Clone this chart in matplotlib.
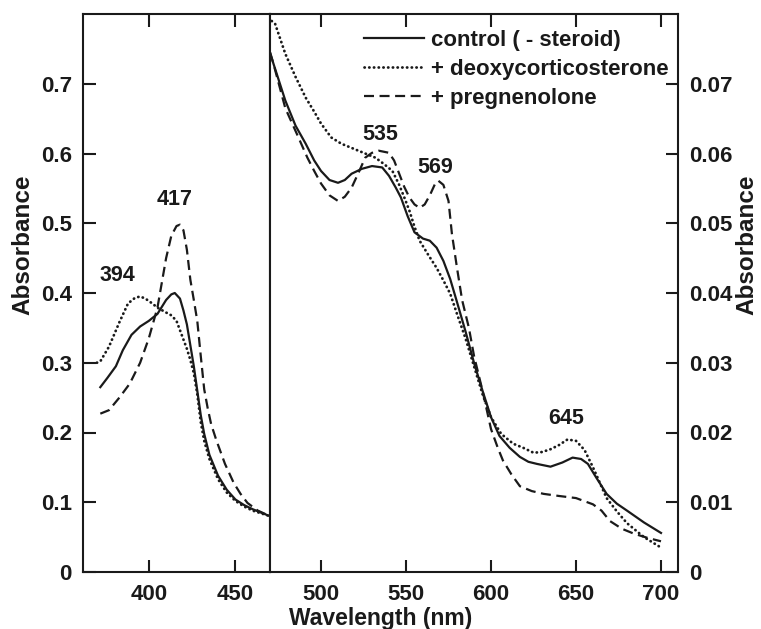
import matplotlib
matplotlib.use("Agg")
import matplotlib.pyplot as plt
from matplotlib.ticker import FuncFormatter

plt.rcParams['font.family'] = ['Liberation Sans', 'DejaVu Sans']
plt.rcParams['font.weight'] = 'bold'

# Soret region (left axis, 0 - 0.8)
wl_ctrl_L = [372, 376, 381, 385, 390, 395, 400, 405, 410, 413, 415, 418, 420, 422, 424, 426,
             428, 430, 432, 435, 440, 445, 450, 455, 460, 465, 470]
ctrl_L = [0.265, 0.278, 0.295, 0.318, 0.340, 0.352, 0.360, 0.370, 0.390, 0.398, 0.400, 0.392,
          0.375, 0.355, 0.325, 0.295, 0.260, 0.225, 0.198, 0.168, 0.138, 0.118, 0.104, 0.096,
          0.090, 0.085, 0.080]

wl_deoxy_L = [370, 372, 377, 383, 388, 392, 395, 398, 402, 405, 410, 413, 416, 419, 422, 424,
              426, 428, 430, 432, 435, 440, 445, 450, 455, 460, 465, 470]
deoxy_L = [0.300, 0.302, 0.323, 0.358, 0.385, 0.393, 0.395, 0.392, 0.385, 0.379, 0.372, 0.368,
           0.360, 0.340, 0.320, 0.304, 0.285, 0.255, 0.215, 0.188, 0.162, 0.133, 0.114, 0.102,
           0.094, 0.088, 0.084, 0.080]

wl_preg_L = [372, 377, 383, 389, 395, 400, 405, 410, 413, 416, 418, 420, 422, 424, 426, 428,
             430, 432, 434, 436, 439, 444, 449, 453, 457, 463, 470]
preg_L = [0.227, 0.232, 0.250, 0.270, 0.300, 0.335, 0.379, 0.450, 0.482, 0.496, 0.498, 0.490,
          0.462, 0.419, 0.390, 0.360, 0.310, 0.262, 0.235, 0.212, 0.189, 0.155, 0.128, 0.112,
          0.099, 0.088, 0.080]

# Visible region (right axis, 0 - 0.08)
wl_ctrl_R = [470, 472, 479, 485, 491, 496, 500, 505, 510, 514, 518, 524, 530, 536, 540, 544,
             547, 551, 555, 560, 564, 568, 572, 576, 580, 585, 590, 595, 600, 605, 611, 617,
             622, 627, 635, 642, 648, 653, 657, 662, 668, 674, 680, 690, 700]
ctrl_R = [0.0745, 0.0729, 0.0676, 0.0640, 0.0614, 0.0590, 0.0575, 0.0562, 0.0558, 0.0562,
          0.0571, 0.0578, 0.0582, 0.0580, 0.0568, 0.0551, 0.0537, 0.0510, 0.0487, 0.0478,
          0.0475, 0.0465, 0.0446, 0.0420, 0.0387, 0.0345, 0.0300, 0.0260, 0.0222, 0.0195,
          0.0178, 0.0165, 0.0158, 0.0155, 0.0151, 0.0157, 0.0164, 0.0162, 0.0155, 0.0135,
          0.0112, 0.0098, 0.0088, 0.0071, 0.0056]

wl_deoxy_R = [471, 473, 479, 485, 491, 496, 500, 506, 512, 518, 525, 532, 537, 542, 546, 549,
              552, 555, 558, 563, 568, 572, 576, 580, 585, 590, 595, 600, 606, 613, 619, 625,
              630, 635, 640, 645, 650, 655, 660, 664, 668, 674, 680, 690, 700]
deoxy_R = [0.0790, 0.0786, 0.0743, 0.0710, 0.0680, 0.0660, 0.0643, 0.0623, 0.0614, 0.0608,
           0.0601, 0.0594, 0.0585, 0.0575, 0.0555, 0.0537, 0.0518, 0.0495, 0.0475, 0.0455,
           0.0436, 0.0418, 0.0399, 0.0370, 0.0335, 0.0295, 0.0255, 0.0222, 0.0198, 0.0184,
           0.0178, 0.0171, 0.0172, 0.0176, 0.0182, 0.0190, 0.0188, 0.0175, 0.0150, 0.0128,
           0.0106, 0.0087, 0.0070, 0.0050, 0.0035]

wl_preg_R = [470, 472, 479, 486, 492, 496, 500, 505, 510, 514, 518, 522, 526, 530, 534, 540,
             543, 546, 549, 552, 555, 558, 561, 564, 567, 569, 572, 575, 577, 580, 583, 587,
             590, 595, 600, 604, 607, 612, 617, 624, 631, 640, 650, 660, 665, 670, 677, 684,
             692, 700]
preg_R = [0.0745, 0.0729, 0.0665, 0.0627, 0.0594, 0.0575, 0.0557, 0.0540, 0.0532, 0.0538,
          0.0551, 0.0572, 0.0594, 0.0601, 0.0604, 0.0601, 0.0590, 0.0571, 0.0552, 0.0537,
          0.0527, 0.0522, 0.0527, 0.0540, 0.0556, 0.0561, 0.0555, 0.0532, 0.0485, 0.0436,
          0.0390, 0.0350, 0.0310, 0.0260, 0.0205, 0.0178, 0.0160, 0.0140, 0.0123, 0.0116,
          0.0112, 0.0109, 0.0106, 0.0097, 0.0088, 0.0073, 0.0062, 0.0055, 0.0049, 0.0044]

labels = ['control ( - steroid)', '+ deoxycorticosterone', '+ pregnenolone']

ink = '#1a1a1a'
st_ctrl = dict(color=ink, lw=1.6, linestyle='-')
st_deoxy = dict(color=ink, lw=2.0, linestyle=(0, (0.1, 1.6)), dash_capstyle='round')
st_preg = dict(color=ink, lw=1.6, linestyle=(0, (4.5, 2.5)))

fig = plt.figure(figsize=(7.61, 6.29), dpi=100)
x0, x1, x2 = 83 / 761, 270 / 761, 678 / 761
y0, y1 = 1 - 572 / 629, 1 - 14 / 629
ax1 = fig.add_axes([x0, y0, x1 - x0, y1 - y0])
ax2 = fig.add_axes([x1, y0, x2 - x1, y1 - y0])

ax1.plot(wl_ctrl_L, ctrl_L, **st_ctrl)
ax1.plot(wl_deoxy_L, deoxy_L, **st_deoxy)
ax1.plot(wl_preg_L, preg_L, **st_preg)

h1, = ax2.plot(wl_ctrl_R, ctrl_R, label=labels[0], **st_ctrl)
h2, = ax2.plot(wl_deoxy_R, deoxy_R, label=labels[1], **st_deoxy)
h3, = ax2.plot(wl_preg_R, preg_R, label=labels[2], **st_preg)

ax1.set_xlim(362, 470)
ax1.set_ylim(0, 0.8)
ax2.set_xlim(470, 710)
ax2.set_ylim(0, 0.08)

ax1.set_xticks([400, 450])
ax1.set_yticks([0, 0.1, 0.2, 0.3, 0.4, 0.5, 0.6, 0.7])
ax2.set_xticks([500, 550, 600, 650, 700])
ax2.set_yticks([0, 0.01, 0.02, 0.03, 0.04, 0.05, 0.06, 0.07])

fmt = FuncFormatter(lambda v, p: '0' if abs(v) < 1e-9 else ('%g' % v))
ax1.yaxis.set_major_formatter(fmt)
ax2.yaxis.set_major_formatter(fmt)

for ax in (ax1, ax2):
    for s in ax.spines.values():
        s.set_linewidth(1.5)
        s.set_color(ink)
    ax.tick_params(direction='in', length=9, width=1.5, color=ink, labelsize=16,
                   top=True, labelcolor=ink)
    ax.tick_params(axis='x', pad=9)
    ax.tick_params(axis='y', pad=8)
    for t in ax.get_xticklabels() + ax.get_yticklabels():
        t.set_fontweight('bold')

ax1.tick_params(axis='y', left=True, right=False)
ax2.tick_params(axis='y', left=False, right=True, labelleft=False, labelright=True)

for ax, x, y, s in [(ax1, 382, 0.425, '394'), (ax1, 415, 0.534, '417'),
                    (ax2, 534.7, 0.0627, '535'), (ax2, 567, 0.058, '569'),
                    (ax2, 644, 0.022, '645')]:
    ax.text(x, y, s, ha='center', va='center', fontsize=15.5, fontweight='bold', color=ink)

leg = ax2.legend(handles=[h1, h2, h3], loc='upper left',
                 bbox_to_anchor=(364 / 761, 1 - 30 / 629), bbox_transform=fig.transFigure,
                 frameon=False, fontsize=16, handlelength=2.7, handletextpad=0.3,
                 labelspacing=0.36, borderpad=0, borderaxespad=0)
for t in leg.get_texts():
    t.set_fontweight('bold')
    t.set_color(ink)

fig.text(23 / 761, 1 - 245 / 629, 'Absorbance', rotation=90, ha='center', va='center',
         fontsize=17.5, fontweight='bold', color=ink)
fig.text(747 / 761, 1 - 245 / 629, 'Absorbance', rotation=90, ha='center', va='center',
         fontsize=17.5, fontweight='bold', color=ink)
fig.text((x0 + x2) / 2, 1 - 618 / 629, 'Wavelength (nm)', ha='center', va='center',
         fontsize=16.5, fontweight='bold', color=ink)

fig.savefig('out.png', dpi=100, facecolor='w')
